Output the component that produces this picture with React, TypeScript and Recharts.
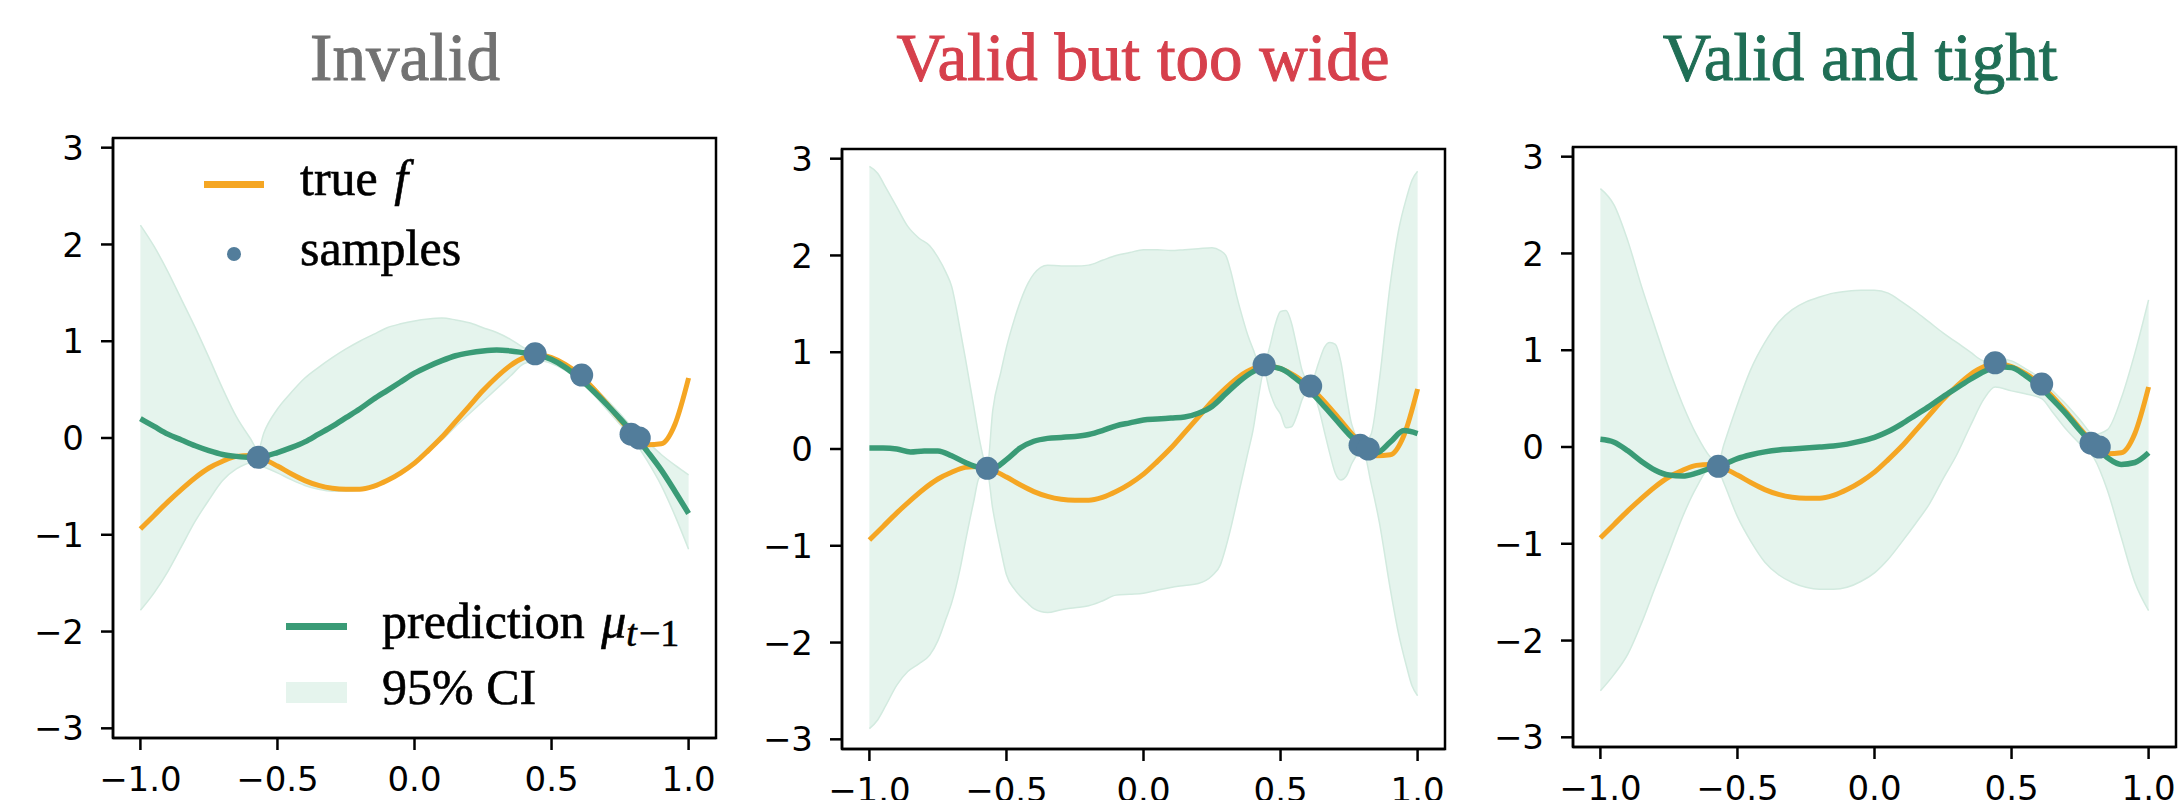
import React from "react";
import {
  Area,
  ComposedChart,
  Legend,
  Line,
  ReferenceArea,
  Scatter,
  XAxis,
  YAxis,
} from "recharts";

// shared x grid for the smooth curves
const gridX = [
  -1, -0.95, -0.9, -0.85, -0.8, -0.75, -0.7, -0.65, -0.6, -0.55, -0.5, -0.45, -0.4, -0.35,
  -0.3, -0.25, -0.2, -0.15, -0.1, -0.05, 0, 0.05, 0.1, 0.15, 0.2, 0.25, 0.3, 0.35, 0.4,
  0.45, 0.5, 0.55, 0.6, 0.65, 0.7, 0.75, 0.8, 0.85, 0.9, 0.95, 1,
];

const trueF = [
  -0.94, -0.8, -0.66, -0.53, -0.41, -0.31, -0.24, -0.19, -0.18, -0.22, -0.29, -0.37, -0.44,
  -0.49, -0.52, -0.53, -0.53, -0.5, -0.44, -0.36, -0.26, -0.13, 0.01, 0.17, 0.33, 0.49, 0.63,
  0.75, 0.83, 0.86, 0.83, 0.76, 0.66, 0.52, 0.36, 0.19, 0.03, -0.07, -0.06, 0.14, 0.62,
];

const sampleX = [-0.57, 0.44, 0.61, 0.79, 0.82];
const sampleY = [-0.2, 0.87, 0.65, 0.04, 0.0];

// panel 1: invalid
const mean1 = [
  0.2, 0.12, 0.04, -0.02, -0.08, -0.13, -0.17, -0.19, -0.2, -0.19, -0.15, -0.1, -0.04, 0.04,
  0.12, 0.21, 0.3, 0.4, 0.49, 0.58, 0.67, 0.74, 0.8, 0.85, 0.88, 0.9, 0.91, 0.9, 0.88, 0.86,
  0.81, 0.73, 0.62, 0.49, 0.35, 0.2, 0.04, -0.14, -0.33, -0.55, -0.78,
];
const band1X = [
  -1, -0.95, -0.9, -0.85, -0.8, -0.75, -0.7, -0.65, -0.6, -0.57, -0.55, -0.5, -0.45, -0.4,
  -0.35, -0.3, -0.25, -0.2, -0.15, -0.1, -0.05, 0, 0.05, 0.1, 0.15, 0.2, 0.25, 0.3, 0.35, 0.4,
  0.45, 0.5, 0.55, 0.6, 0.65, 0.7, 0.75, 0.8, 0.85, 0.9, 0.95, 1,
];
const band1Lo = [
  -1.78, -1.6, -1.38, -1.12, -0.86, -0.64, -0.44, -0.32, -0.26, -0.28, -0.3, -0.36, -0.43,
  -0.49, -0.53, -0.55, -0.55, -0.54, -0.5, -0.44, -0.35, -0.25, -0.13, -0.02, 0.12, 0.25, 0.38,
  0.51, 0.64, 0.77, 0.8, 0.77, 0.7, 0.6, 0.46, 0.3, 0.14, -0.02, -0.24, -0.49, -0.8, -1.15,
];
const band1Hi = [
  2.2, 1.98, 1.72, 1.43, 1.14, 0.83, 0.51, 0.22, 0.0, -0.12, 0.05, 0.3, 0.47, 0.62, 0.73, 0.83,
  0.92, 1.0, 1.07, 1.14, 1.18, 1.21, 1.23, 1.24, 1.22, 1.19, 1.14, 1.09, 1.02, 0.93, 0.88, 0.84,
  0.75, 0.66, 0.54, 0.4, 0.25, 0.09, -0.04, -0.17, -0.28, -0.38,
];

// panel 2: valid but too wide
const mean2 = [
  0.01, 0.01, 0.0, -0.03, -0.02, -0.02, -0.07, -0.14, -0.19, -0.2, -0.11, 0.01, 0.08, 0.11,
  0.12, 0.13, 0.15, 0.19, 0.24, 0.27, 0.3, 0.31, 0.32, 0.33, 0.37, 0.44, 0.57, 0.7, 0.8, 0.85,
  0.83, 0.74, 0.62, 0.47, 0.31, 0.15, 0.03, -0.04, 0.07, 0.19, 0.16,
];
const band2X = [
  -1, -0.97, -0.94, -0.9, -0.86, -0.82, -0.78, -0.75, -0.72, -0.7, -0.67, -0.65, -0.62, -0.6,
  -0.57, -0.55, -0.52, -0.5, -0.47, -0.45, -0.42, -0.4, -0.35, -0.3, -0.25, -0.2, -0.15, -0.1,
  -0.05, 0, 0.05, 0.1, 0.15, 0.2, 0.25, 0.28, 0.3, 0.32, 0.34, 0.36, 0.38, 0.4, 0.42, 0.44,
  0.46, 0.48, 0.5, 0.52, 0.54, 0.56, 0.58, 0.61, 0.64, 0.66, 0.68, 0.7, 0.72, 0.74, 0.76, 0.8,
  0.83, 0.86, 0.9, 0.93, 0.96, 0.98, 1,
];
const band2Lo = [
  -2.89, -2.8, -2.65, -2.44, -2.3, -2.22, -2.13, -1.98, -1.75, -1.59, -1.25, -0.96, -0.55, -0.3,
  -0.25, -0.62, -1.05, -1.3, -1.45, -1.52, -1.6, -1.65, -1.69, -1.66, -1.64, -1.62, -1.57, -1.51,
  -1.5, -1.49, -1.46, -1.43, -1.41, -1.39, -1.31, -1.2, -1.02, -0.8, -0.55, -0.3, -0.05, 0.2,
  0.55, 0.8, 0.6, 0.45, 0.36, 0.22, 0.23, 0.35, 0.52, 0.62, 0.41, 0.18, -0.05, -0.25, -0.32,
  -0.28, -0.15, -0.01, -0.35, -0.75, -1.44, -1.9, -2.25, -2.45, -2.55,
];
const band2Hi = [
  2.92, 2.85, 2.7, 2.5, 2.3, 2.18, 2.1, 1.98, 1.82, 1.68, 1.25, 0.94, 0.45, 0.12, -0.18, 0.4,
  0.8, 1.05, 1.35, 1.52, 1.72, 1.81, 1.9, 1.89, 1.89, 1.9, 1.95, 2.0, 2.03, 2.06, 2.06, 2.05,
  2.06, 2.07, 2.08, 2.05, 2.0, 1.82, 1.58, 1.37, 1.18, 1.03, 0.9, 0.88, 1.05, 1.28, 1.42, 1.43,
  1.3, 1.05, 0.8, 0.68, 0.9, 1.05, 1.1, 1.08, 0.9, 0.55, 0.25, 0.06, 0.15, 0.7, 1.7, 2.25, 2.6,
  2.78, 2.87,
];

// panel 3: valid and tight
const mean3 = [
  0.08, 0.05, -0.04, -0.15, -0.24, -0.29, -0.3, -0.27, -0.22, -0.18, -0.12, -0.08, -0.05, -0.03,
  -0.02, -0.01, 0.0, 0.01, 0.03, 0.06, 0.1, 0.16, 0.24, 0.33, 0.42, 0.52, 0.61, 0.7, 0.78, 0.83,
  0.82, 0.74, 0.63, 0.49, 0.34, 0.17, 0.02, -0.11, -0.18, -0.16, -0.06,
];
const band3X = [
  -1, -0.95, -0.9, -0.85, -0.8, -0.75, -0.7, -0.65, -0.6, -0.57, -0.55, -0.5, -0.45, -0.4,
  -0.35, -0.3, -0.25, -0.2, -0.15, -0.1, -0.05, 0, 0.05, 0.1, 0.15, 0.2, 0.25, 0.3, 0.35, 0.4,
  0.44, 0.5, 0.55, 0.61, 0.65, 0.7, 0.75, 0.8, 0.85, 0.9, 0.95, 1,
];
const band3Lo = [
  -2.52, -2.35, -2.14, -1.82, -1.45, -1.09, -0.72, -0.42, -0.22, -0.24, -0.37, -0.72, -0.98,
  -1.19, -1.32, -1.4, -1.45, -1.47, -1.47, -1.45, -1.39, -1.3, -1.16, -0.98, -0.79, -0.59, -0.33,
  -0.08, 0.22, 0.5, 0.62, 0.58, 0.55, 0.5, 0.36, 0.18, 0.03, -0.11, -0.45, -0.93, -1.4, -1.69,
];
const band3Hi = [
  2.67, 2.5, 2.13, 1.66, 1.23, 0.81, 0.44, 0.13, -0.1, -0.16, 0.02, 0.44, 0.81, 1.08, 1.29, 1.42,
  1.5, 1.55, 1.59, 1.61, 1.62, 1.62, 1.59, 1.5, 1.4, 1.29, 1.18, 1.08, 0.98, 0.89, 0.92, 0.89,
  0.81, 0.7, 0.58, 0.44, 0.28, 0.13, 0.18, 0.5, 0.97, 1.52,
];

const xTicks = [-1, -0.5, 0, 0.5, 1];
const yTicks = [-3, -2, -1, 0, 1, 2, 3];

const ORANGE = "#f5a623";
const GREEN = "#3a9b76";
const DOT = "#527d9b";
const BAND = "#e5f4ed";
const BAND_EDGE = "#d2eadf";

const W = 726;
const H = 672;

const toLine = (xs: number[], ys: number[]) => xs.map((x, i) => ({ x, y: ys[i] }));
const toBand = (xs: number[], lo: number[], hi: number[]) =>
  xs.map((x, i) => ({ x, range: [lo[i], hi[i]] }));

const minus = (s: string) => s.replace("-", "\u2212");
const tickFont = { fontFamily: "DejaVu Sans", fontSize: 34, fill: "#000" };

function LegendArt() {
  const serif = {
    fontFamily: "Liberation Serif",
    fontSize: 50,
    fill: "#000",
    stroke: "#000",
    strokeWidth: 0.6,
  };
  return (
    <svg width={W} height={H} style={{ display: "block" }}>
      <rect x={204} y={53} width={60} height={7} fill={ORANGE} />
      <text x={300} y={67} {...serif}>
        true <tspan fontStyle="italic" dx={4}>f</tspan>
      </text>
      <circle cx={234} cy={126} r={7} fill={DOT} />
      <text x={300} y={137} {...serif}>samples</text>
      <rect x={286} y={495} width={61} height={7} fill={GREEN} />
      <text x={382} y={510} {...serif}>
        prediction <tspan fontStyle="italic" dx={4}>μ</tspan>
        <tspan fontSize={38} dy={8} fontStyle="italic">t</tspan>
        <tspan fontSize={38} dx={2}>−1</tspan>
      </text>
      <rect x={286} y={554} width={61} height={21} fill={BAND} />
      <text x={382} y={576} {...serif}>95% CI</text>
    </svg>
  );
}

interface PanelProps {
  title: string;
  color: string;
  titleX: number;
  left: number;
  top: number;
  mean: number[];
  bandX: number[];
  bandLo: number[];
  bandHi: number[];
  legend?: boolean;
}

function Panel({ title, color, titleX, left, top, mean, bandX, bandLo, bandHi, legend }: PanelProps) {
  return (
    <>
      <div
        style={{
          position: "absolute",
          left: titleX - 400,
          top: 24,
          width: 800,
          textAlign: "center",
          fontFamily: "Liberation Serif",
          fontSize: 67,
          lineHeight: "67px",
          color,
          WebkitTextStroke: `1px ${color}`,
          whiteSpace: "nowrap",
        }}
      >
        {title}
      </div>
      <div style={{ position: "absolute", left, top }}>
        <ComposedChart width={W} height={H} margin={{ top: 10, right: 10, left: 0, bottom: 0 }}>
          <XAxis
            type="number"
            dataKey="x"
            domain={[-1.1, 1.1]}
            allowDataOverflow
            ticks={xTicks}
            interval={0}
            height={62}
            tickSize={12}
            tickMargin={17}
            tick={tickFont}
            tickFormatter={(v: number) => minus(v.toFixed(1))}
            axisLine={{ stroke: "#000", strokeWidth: 2.5 }}
            tickLine={{ stroke: "#000", strokeWidth: 2.5 }}
          />
          <YAxis
            type="number"
            domain={[-3.1, 3.1]}
            allowDataOverflow
            ticks={yTicks}
            interval={0}
            width={113}
            tickSize={12}
            tickMargin={17}
            tick={tickFont}
            tickFormatter={(v: number) => minus(String(v))}
            axisLine={{ stroke: "#000", strokeWidth: 2.5 }}
            tickLine={{ stroke: "#000", strokeWidth: 2.5 }}
          />
          <Area
            data={toBand(bandX, bandLo, bandHi)}
            dataKey="range"
            type="monotone"
            fill={BAND}
            fillOpacity={1}
            stroke={BAND_EDGE}
            strokeWidth={1.5}
            isAnimationActive={false}
            activeDot={false}
          />
          <Line
            data={toLine(gridX, trueF)}
            dataKey="y"
            type="monotone"
            stroke={ORANGE}
            strokeWidth={5}
            dot={false}
            activeDot={false}
            isAnimationActive={false}
          />
          <Line
            data={toLine(gridX, mean)}
            dataKey="y"
            type="monotone"
            stroke={GREEN}
            strokeWidth={5.5}
            dot={false}
            activeDot={false}
            isAnimationActive={false}
          />
          <Scatter
            data={toLine(sampleX, sampleY)}
            dataKey="y"
            isAnimationActive={false}
            shape={(p: any) => <circle cx={p.cx} cy={p.cy} r={11.5} fill={DOT} />}
          />
          <ReferenceArea
            x1={-1.1}
            x2={1.1}
            y1={-3.1}
            y2={3.1}
            fill="none"
            stroke="#000"
            strokeWidth={2.5}
            ifOverflow="visible"
          />
          {legend && (
            <Legend
              layout="horizontal"
              verticalAlign="middle"
              align="center"
              wrapperStyle={{ left: 0, top: 0, width: W, height: H }}
              content={() => <LegendArt />}
            />
          )}
        </ComposedChart>
      </div>
    </>
  );
}

export default function App() {
  return (
    <div
      style={{
        position: "absolute",
        left: 0,
        top: 0,
        width: 2182,
        height: 800,
        overflow: "hidden",
        background: "#fff",
      }}
    >
      <Panel
        title="Invalid"
        color="#727272"
        titleX={405}
        left={0}
        top={128}
        mean={mean1}
        bandX={band1X}
        bandLo={band1Lo}
        bandHi={band1Hi}
        legend
      />
      <Panel
        title="Valid but too wide"
        color="#d6404c"
        titleX={1143}
        left={729}
        top={139}
        mean={mean2}
        bandX={band2X}
        bandLo={band2Lo}
        bandHi={band2Hi}
      />
      <Panel
        title="Valid and tight"
        color="#1f6e55"
        titleX={1860}
        left={1460}
        top={137}
        mean={mean3}
        bandX={band3X}
        bandLo={band3Lo}
        bandHi={band3Hi}
      />
    </div>
  );
}
